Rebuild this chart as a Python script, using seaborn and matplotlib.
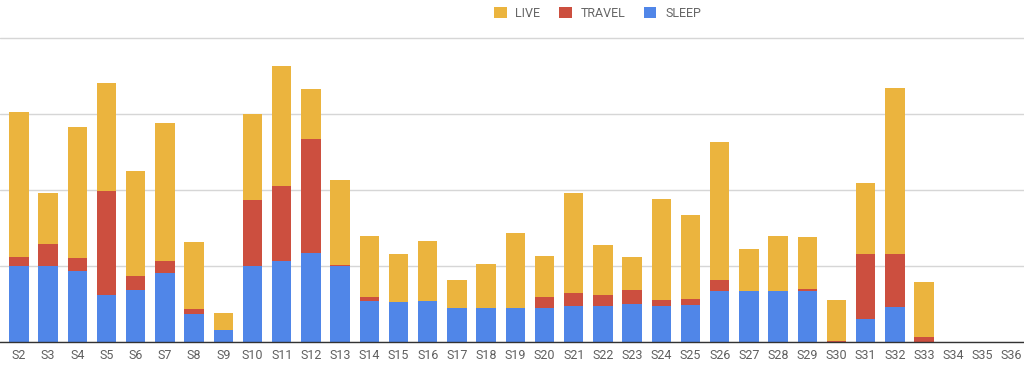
import matplotlib
matplotlib.use("Agg")
import matplotlib.pyplot as plt
import seaborn as sns
import pandas as pd
import numpy as np
from matplotlib.patches import Patch

sessions = [f"S{i}" for i in range(2, 37)]
sleep = [10.0, 10.0, 9.4, 6.2, 6.9, 9.1, 3.7, 1.7, 10.0, 10.7, 11.8, 10.0,
         5.5, 5.3, 5.5, 4.5, 4.5, 4.5, 4.5, 4.8, 4.8, 5.1, 4.8, 4.9,
         6.8, 6.8, 6.8, 6.8, 0.0, 3.1, 4.7, 0.0, 0.0, 0.0, 0.0]
travel = [1.3, 2.9, 1.7, 13.7, 1.9, 1.6, 0.65, 0.0, 8.8, 9.9, 14.9, 0.25,
          0.45, 0.0, 0.0, 0.0, 0.0, 0.0, 1.5, 1.65, 1.4, 1.85, 0.85, 0.8,
          1.4, 0.0, 0.0, 0.28, 0.2, 8.55, 6.95, 0.72, 0.0, 0.0, 0.0]
live = [19.0, 6.8, 17.3, 14.2, 13.7, 18.1, 8.8, 2.2, 11.3, 15.8, 6.65, 11.1,
        8.1, 6.3, 7.85, 3.7, 5.8, 9.9, 5.4, 13.2, 6.65, 4.3, 13.25, 11.05,
        18.2, 5.55, 7.25, 6.85, 5.4, 9.3, 21.8, 7.27, 0.0, 0.0, 0.0]
series_names = ["LIVE", "TRAVEL", "SLEEP"]

C_LIVE = "#EBB43E"
C_TRAVEL = "#CC4F3F"
C_SLEEP = "#5086E8"

df = pd.DataFrame({"session": sessions, "sleep": sleep, "travel": travel, "live": live})
df["cum_travel"] = df["sleep"] + df["travel"]
df["cum_live"] = df["cum_travel"] + df["live"]

sns.set_style("white")
plt.rcParams["font.family"] = ["Roboto", "DejaVu Sans"]

fig = plt.figure(figsize=(10.24, 3.67), dpi=100)
ax = fig.add_axes([0.0, 0.0668, 1.0, 0.9163 - 0.0668])

w = 0.665
sns.barplot(data=df, x="session", y="cum_live", order=sessions, color=C_LIVE,
            width=w, saturation=1, ax=ax, zorder=2, linewidth=0)
sns.barplot(data=df, x="session", y="cum_travel", order=sessions, color=C_TRAVEL,
            width=w, saturation=1, ax=ax, zorder=3, linewidth=0)
sns.barplot(data=df, x="session", y="sleep", order=sessions, color=C_SLEEP,
            width=w, saturation=1, ax=ax, zorder=4, linewidth=0)

ax.set_xlim(-0.65, 34.42)
ax.set_ylim(0, 41)
ax.set_yticks([0, 10, 20, 30, 40])
ax.set_yticklabels([])
ax.yaxis.grid(True, color="#D6D6D6", linewidth=1.0, zorder=0)
ax.set_axisbelow(True)
for s in ["top", "left", "right"]:
    ax.spines[s].set_visible(False)
ax.spines["bottom"].set_color("#333333")
ax.spines["bottom"].set_linewidth(1.0)
ax.spines["bottom"].set_zorder(6)
ax.set_xlabel("")
ax.set_ylabel("")
ax.tick_params(axis="x", length=0, pad=5, labelsize=9, labelcolor="#5F5F5F")
ax.tick_params(axis="y", length=0)

handles = [Patch(facecolor=C_LIVE, edgecolor="none"),
           Patch(facecolor=C_TRAVEL, edgecolor="none"),
           Patch(facecolor=C_SLEEP, edgecolor="none")]
fig.legend(handles, series_names, loc="center", bbox_to_anchor=(0.5835, 0.964),
           ncol=3, frameon=False, fontsize=9, labelcolor="#666666",
           handlelength=1.0, handleheight=1.0, handletextpad=0.7,
           columnspacing=1.5, borderpad=0)

fig.savefig("out.png", dpi=100)
